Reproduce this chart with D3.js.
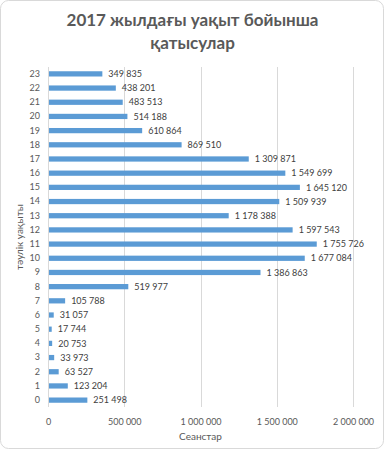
<!DOCTYPE html>
<html>
<head>
<meta charset="utf-8">
<script src="https://cdn.jsdelivr.net/npm/d3@7"></script>
<style>
  body { margin: 0; background: #fff; }
  svg { display: block; font-family: Lato, "Open Sans", sans-serif; }
</style>
</head>
<body>
<svg id="chart" width="385" height="450"></svg>
<script>
const hours = ['0', '1', '2', '3', '4', '5', '6', '7', '8', '9', '10', '11',
    '12', '13', '14', '15', '16', '17', '18', '19', '20', '21', '22', '23'];
const sessions = [251498, 123204, 63527, 33973, 20753, 17744, 31057, 105788,
    519977, 1386863, 1677084, 1755726, 1597543, 1178388, 1509939, 1645120,
    1549699, 1309871, 869510, 610864, 514188, 483513, 438201, 349835];
const xTicks = [0, 500000, 1000000, 1500000, 2000000];

const titleLines = ['2017 жылдағы уақыт бойынша', 'қатысулар'];
const xTitle = 'Сеанстар';
const yTitle = 'тәулік уақыты';

const margin = { top: 67, left: 48, right: 32, bottom: 43 };
const width = 385;
const height = 450;
const chartWidth = width - margin.left - margin.right;
const chartHeight = height - margin.top - margin.bottom;

const fmt = v => d3.format(',')(v).replace(/,/g, ' ');

const svg = d3.select('#chart');

svg.append('rect')
    .attr('x', 0.5)
    .attr('y', 0.5)
    .attr('width', width - 2)
    .attr('height', height - 2)
    .attr('rx', 8)
    .attr('fill', '#fff')
    .attr('stroke', '#d9d9d9');

svg.append('g')
    .selectAll('text')
    .data(titleLines)
    .enter()
    .append('text')
    .attr('x', width / 2)
    .attr('y', (d, i) => 26 + i * 23)
    .attr('text-anchor', 'middle')
    .attr('fill', '#595959')
    .attr('font-size', 17)
    .attr('font-weight', 'bold')
    .text(d => d);

const g = svg.append('g')
    .attr('transform', `translate(${[margin.left, margin.top]})`);

const x = d3.scaleLinear()
    .domain([0, 2000000])
    .range([0, 305]);

const y = d3.scaleBand()
    .domain(hours.slice().reverse())
    .range([0, chartHeight - 0])
    .paddingInner(0.63)
    .paddingOuter(0.3);

// gridlines
g.append('g')
    .selectAll('line')
    .data(xTicks)
    .enter()
    .append('line')
    .attr('x1', d => Math.round(x(d)) + 0.5)
    .attr('x2', d => Math.round(x(d)) + 0.5)
    .attr('y1', 0)
    .attr('y2', chartHeight)
    .attr('stroke', '#d9d9d9');

const xAxe = d3.axisBottom(x)
    .tickValues(xTicks)
    .tickSize(0)
    .tickPadding(12)
    .tickFormat(fmt);

g.append('g')
    .attr('transform', `translate(0, ${chartHeight})`)
    .call(xAxe)
    .call(a => a.select('.domain').remove())
    .selectAll('text')
    .attr('fill', '#595959')
    .attr('font-size', 9)
    .attr('font-family', 'Lato, sans-serif');

const yAxe = d3.axisLeft(y)
    .tickSize(0)
    .tickPadding(8);

g.append('g')
    .call(yAxe)
    .call(a => a.select('.domain').remove())
    .selectAll('text')
    .attr('fill', '#595959')
    .attr('font-size', 9)
    .attr('font-family', 'Lato, sans-serif');

const rows = hours.map((h, i) => ({ hour: h, value: sessions[i] }));

g.append('g')
    .selectAll('rect')
    .data(rows)
    .enter()
    .append('rect')
    .attr('x', 1)
    .attr('y', d => y(d.hour))
    .attr('width', d => x(d.value))
    .attr('height', y.bandwidth())
    .attr('fill', '#5b9bd5');

g.append('g')
    .selectAll('text')
    .data(rows)
    .enter()
    .append('text')
    .attr('x', d => x(d.value) + 7)
    .attr('y', d => y(d.hour) + y.bandwidth() / 2)
    .attr('dy', '0.35em')
    .attr('fill', '#404040')
    .attr('font-size', 9)
    .text(d => fmt(d.value));

svg.append('text')
    .attr('x', margin.left + x(1000000))
    .attr('y', 440)
    .attr('text-anchor', 'middle')
    .attr('fill', '#595959')
    .attr('font-size', 10)
    .text(xTitle);

svg.append('text')
    .attr('transform', `translate(23, ${margin.top + chartHeight / 2}) rotate(-90)`)
    .attr('text-anchor', 'middle')
    .attr('fill', '#595959')
    .attr('font-size', 10)
    .text(yTitle);
</script>
</body>
</html>
